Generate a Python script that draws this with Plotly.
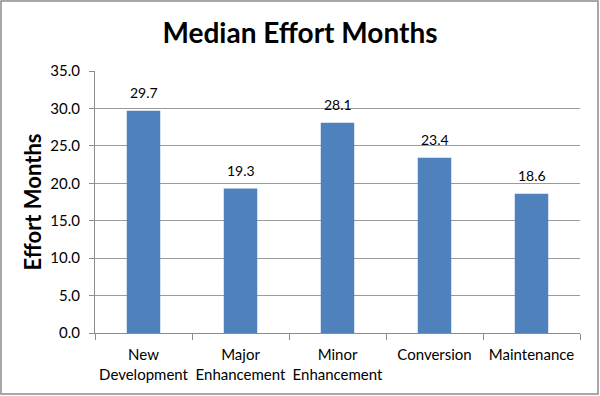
import plotly.graph_objects as go

categories = ["New<br>Development", "Major<br>Enhancement", "Minor<br>Enhancement", "Conversion", "Maintenance"]
values = [29.7, 19.3, 28.1, 23.4, 18.6]
y_ticks = [0, 5, 10, 15, 20, 25, 30, 35]
y_tick_labels = ["0.0", "5.0", "10.0", "15.0", "20.0", "25.0", "30.0", "35.0"]

W, H = 600, 396
L, R, T, B = 95, 20, 71, 63
pw, ph = W - L - R, H - T - B

fig = go.Figure()
fig.add_trace(go.Bar(
    x=categories, y=values,
    marker=dict(color="#4F81BD", line=dict(width=0)),
    hoverinfo="skip",
))
for c, v in zip(categories, values):
    fig.add_annotation(x=c, y=v, text=f"{v:.1f}", showarrow=False,
                       yanchor="bottom", yshift=8,
                       font=dict(family="Lato, Open Sans, sans-serif", size=14, color="black"))

fig.add_shape(type="rect", xref="paper", yref="paper",
              x0=(1 - L) / pw, x1=(W - 2 - L) / pw,
              y0=-(H - 2 - T - ph) / ph, y1=1 + (T - 1) / ph,
              line=dict(color="#8c8c8c", width=1.5), layer="above")

fig.update_layout(
    width=W, height=H,
    margin=dict(l=L, r=R, t=T, b=B, autoexpand=False),
    paper_bgcolor="white", plot_bgcolor="white",
    bargap=0.655,
    showlegend=False,
    title=dict(text="<b>Median Effort Months</b>", x=0.5, xanchor="center",
               y=1 - 33 / H, yanchor="middle",
               font=dict(family="Lato, Open Sans, sans-serif", size=28, color="black")),
    font=dict(family="Lato, Open Sans, sans-serif", size=14, color="black"),
)
fig.update_xaxes(
    showline=True, linecolor="#8c8c8c", linewidth=1,
    ticks="outside", tickson="boundaries", ticklen=6, tickcolor="#8c8c8c",
    tickfont=dict(size=15, color="black"), ticklabelstandoff=8, tickangle=0,
    automargin=False,
    showgrid=False,
)
fig.update_yaxes(
    range=[0, 35], tickvals=y_ticks, ticktext=y_tick_labels,
    showline=True, linecolor="#8c8c8c", linewidth=1,
    ticks="outside", ticklen=5, tickcolor="#8c8c8c",
    gridcolor="#9a9a9a", gridwidth=1,
    tickfont=dict(size=15, color="black"), ticklabelstandoff=6,
    automargin=False,
    title=dict(text="<b>Effort Months</b>", font=dict(size=22, color="black"), standoff=2),
    zeroline=False,
)
fig.write_html("out.html", config={"displayModeBar": False},
               post_script="document.body.style.margin='0';")
